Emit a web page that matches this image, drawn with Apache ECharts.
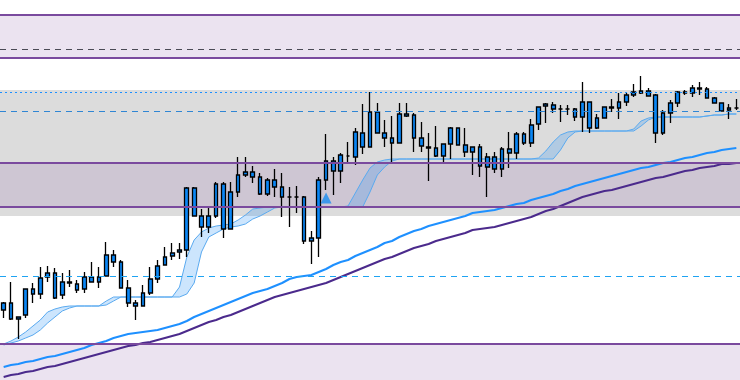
<!DOCTYPE html>
<html><head><meta charset="utf-8">
<script src="https://cdn.jsdelivr.net/npm/echarts@6/dist/echarts.min.js"></script>
<style>html,body{margin:0;padding:0;background:#fff}#c{width:740px;height:380px}</style>
</head><body><div id="c"></div>
<script>
// price units (arbitrary scale), [open, close, low, high]
const candleRows = [
[77,70,62,78],[77,61,60,98],[61,63,41,63],[65,91,62,91],[91,86,77,97],
[86,102,81,113],[103,107,98,114],[107,82,81,112],[85,98,81,107],[98,97,93,110],
[96,90,87,100],[91,103,87,108],[103,98,98,118],[98,103,92,113],[104,125,104,138],
[125,118,113,130],[118,92,92,120],[92,77,73,100],[77,74,60,80],[74,87,74,95],
[87,101,85,113],[101,114,97,120],[115,123,115,133],[124,127,120,137],[128,130,121,137],
[130,192,123,193],[192,164,164,193],[164,153,143,171],[153,164,147,173],[164,196,162,198],
[196,151,142,198],[151,188,151,198],[188,205,183,223],[205,208,203,223],[208,203,197,214],
[203,186,185,207],[186,200,184,202],[200,193,183,211],[193,183,163,207],[183,183,153,193],
[183,183,167,194],[183,139,136,184],[139,142,116,149],[142,200,123,203],[200,219,190,246],
[219,209,185,223],[209,225,197,227],[224,224,217,238],[223,248,215,252],[247,233,226,276],
[233,268,233,288],[268,247,247,277],[247,242,233,260],[242,237,217,264],[237,266,237,277],
[266,264,263,277],[265,242,228,267],[242,234,228,258],[233,232,199,247],[232,224,223,254],
[224,236,217,236],[236,252,221,253],[252,235,235,252],[235,228,223,252],[228,233,205,233],
[233,214,203,236],[213,223,183,227],[223,211,207,228],[211,231,203,233],[231,227,212,248],
[227,246,221,248],[246,237,235,248],[237,255,233,261],[256,273,250,273],[274,276,257,277],
[275,271,267,278],[271,271,258,275],[271,271,265,275],[271,263,259,272],[263,278,248,298],
[278,252,247,278],[252,262,251,266],[262,273,262,273],[273,272,268,281],[272,278,261,287],
[278,285,274,287],[285,288,283,296],[287,289,286,304],[289,284,284,292],[285,247,237,286],
[247,267,245,270],[267,277,257,280],[277,288,273,289],[288,287,285,290],[287,292,283,295],
[292,291,285,298],[291,282,282,293],[282,277,277,283],[277,269,269,277],[270,272,261,276],
[272,272,270,281]
];
const maFast = [
13,15,16,18,19,21,23,24,26,28,
30,32,35,37,39,42,44,46,47,48,
49,50,52,54,56,59,63,66,69,72,
75,78,81,84,87,89,91,94,97,101,
103,104,105,108,111,115,118,120,124,127,
130,133,137,139,143,146,149,151,154,156,
158,160,162,164,167,168,169,170,172,174,
176,177,180,182,184,186,189,191,194,196,
198,200,202,204,206,208,210,212,213,215,
217,218,220,222,223,225,227,228,230,231,
232
];
const maSlow = [
3,5,6,8,9,11,13,14,16,18,
20,22,24,26,28,30,32,34,35,37,
38,40,42,44,46,49,52,55,58,60,
63,65,68,71,74,77,80,83,85,87,
89,91,93,95,97,100,103,106,109,112,
115,118,121,123,126,129,132,134,136,139,
141,143,145,147,150,151,152,153,155,157,
159,161,163,166,169,171,174,177,180,183,
185,187,189,190,192,194,196,198,200,202,
203,205,207,209,210,212,213,214,216,216,
217
];
const bandFast = [
36,39,43,48,54,60,68,71,73,74,
74,74,74,74,79,83,83,83,83,83,
83,83,83,83,93,123,140,148,152,154,
155,156,160,165,171,172,173,173,173,173,
173,173,173,173,173,173,173,174,187,200,
212,218,220,221,221,221,221,221,221,221,
221,221,221,221,221,221,221,221,221,221,
221,221,221,222,229,238,245,248,249,249,
249,249,249,249,249,249,251,259,262,263,
263,263,263,263,263,263,264,265,265,266,
266
];
const bandSlow = [
35,37,39,42,45,50,57,63,69,72,
74,74,74,74,75,79,83,83,83,83,
83,83,83,83,83,86,97,128,143,147,
151,153,154,156,161,164,168,172,173,173,
173,173,173,173,173,173,173,173,173,173,
188,205,213,219,221,221,221,221,221,221,
221,221,221,221,221,221,221,221,221,221,
221,221,221,221,221,221,230,242,248,249,
249,249,249,249,249,249,249,254,260,263,
263,263,263,263,263,263,264,265,265,266,
266
];
const signalBars = [44];
const signalPrices = [182];
const zoneUpper = [322, 365];
const zoneRange = [164, 290];
const zoneMid = [173, 217];
const zoneLower = [0, 36];
const solidLevels = [365, 322, 217, 173, 36];
const dashDarkLevels = [330.5];
const dottedLevels = [287.5];
const dashBlueLevels = [268.5];
const dashLightLevels = [103.5];

const categories = candleRows.map((_, i) => 'bar' + (i + 1));
const bandDiff = bandFast.map((v, i) => v - bandSlow[i]);

const chart = echarts.init(document.getElementById('c'), null, {renderer: 'canvas'});
const purple = '#7a4a9e';
const markLines = []
  .concat(solidLevels.map(v => ({yAxis: v, lineStyle: {color: purple, width: 2, type: 'solid'}})))
  .concat(dashDarkLevels.map(v => ({yAxis: v, lineStyle: {color: '#4a4a55', width: 1, type: [6, 5]}})))
  .concat(dottedLevels.map(v => ({yAxis: v, lineStyle: {color: '#1e90ff', width: 1, type: [2, 3]}})))
  .concat(dashBlueLevels.map(v => ({yAxis: v, lineStyle: {color: '#2f86d4', width: 1, type: [6, 5]}})))
  .concat(dashLightLevels.map(v => ({yAxis: v, lineStyle: {color: '#1ea3f2', width: 1, type: [6, 5]}})));

chart.setOption({
  animation: false,
  backgroundColor: '#ffffff',
  grid: {left: -2.7, right: 0, top: 0, bottom: 0},
  xAxis: {type: 'category', data: categories, boundaryGap: true, show: false},
  yAxis: {type: 'value', min: 0, max: 380, show: false, splitLine: {show: false}},
  series: [
    {
      type: 'line', data: [], z: 0, silent: true,
      markArea: {
        silent: true,
        data: [
          [{yAxis: zoneRange[0], itemStyle: {color: '#dcdcdc'}}, {yAxis: zoneRange[1]}],
          [{yAxis: zoneMid[0], itemStyle: {color: 'rgba(144,99,172,0.18)'}}, {yAxis: zoneMid[1]}],
          [{yAxis: zoneUpper[0], itemStyle: {color: 'rgba(144,99,172,0.18)'}}, {yAxis: zoneUpper[1]}],
          [{yAxis: zoneLower[0], itemStyle: {color: 'rgba(144,99,172,0.18)'}}, {yAxis: zoneLower[1]}]
        ]
      },
      markLine: {silent: true, symbol: ['none', 'none'], label: {show: false}, data: markLines}
    },
    {
      name: 'bandSlow', type: 'line', data: bandSlow, stack: 'band', z: 1,
      showSymbol: false, symbol: 'none', silent: true,
      lineStyle: {color: '#5aaaf0', width: 1}
    },
    {
      name: 'bandDiff', type: 'line', data: bandDiff, stack: 'band', z: 1,
      showSymbol: false, symbol: 'none', silent: true,
      lineStyle: {color: '#5aaaf0', width: 1},
      areaStyle: {color: 'rgba(40,145,245,0.34)'}
    },
    {
      name: 'maFast', type: 'line', data: maFast, z: 2, showSymbol: false, symbol: 'none',
      lineStyle: {color: '#1e90ff', width: 2}
    },
    {
      name: 'maSlow', type: 'line', data: maSlow, z: 2, showSymbol: false, symbol: 'none',
      lineStyle: {color: '#4b2a8c', width: 2}
    },
    {
      name: 'price', type: 'candlestick', data: candleRows, z: 3, barWidth: 4.2,
      itemStyle: {color: '#0a86f5', color0: '#0a86f5', borderColor: '#000', borderColor0: '#000', borderWidth: 1.3}
    },
    {
      name: 'signal', type: 'scatter', z: 4, symbol: 'triangle', symbolSize: [11, 11],
      data: signalBars.map((b, i) => [b, signalPrices[i]]),
      itemStyle: {color: '#1a8cf0'}
    }
  ]
});
</script>
</body></html>
